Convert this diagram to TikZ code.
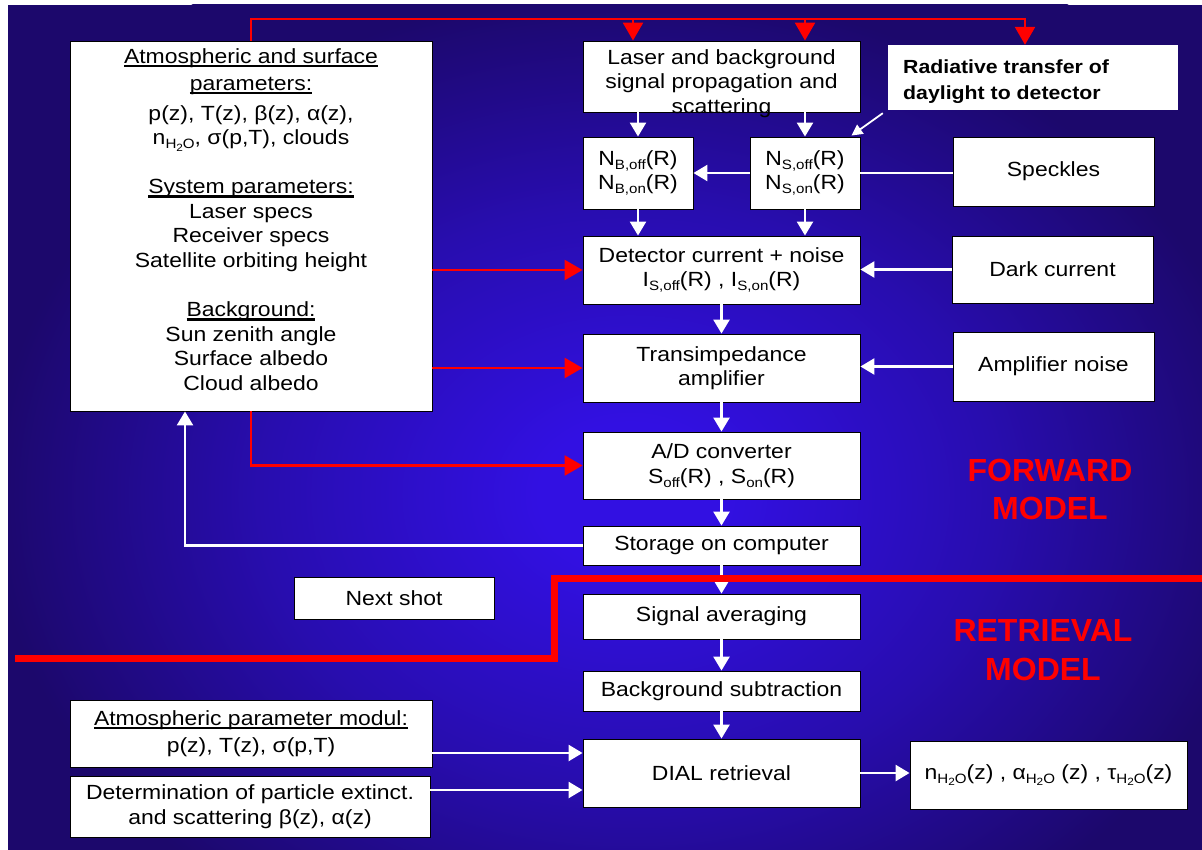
\documentclass[tikz,border=0pt]{standalone}
\usepackage{fontspec}
\setmainfont{Liberation Sans}[FakeStretch=1.12]
\newfontfamily\plainsans{Liberation Sans}
\usetikzlibrary{arrows.meta}
\definecolor{bgdark}{RGB}{28,8,108}
\definecolor{bgmid}{RGB}{40,13,175}
\definecolor{bgbright}{RGB}{50,16,226}
\definecolor{lred}{RGB}{255,0,0}
\pgfdeclareradialshading{bgshade}{\pgfpoint{0bp}{0bp}}{color(0bp)=(bgbright); color(3bp)=(bgbright); color(12bp)=(bgmid); color(21bp)=(bgdark); color(25bp)=(bgdark); color(50bp)=(bgdark)}
\newcommand\lsub[1]{\raisebox{-4pt}{\fontsize{13.5}{13.5}\selectfont #1}}
\newcommand\htwoo{\lsub{H\raisebox{-2.5pt}{\fontsize{10.5}{10.5}\selectfont 2}O}}
\newcommand\ulh[1]{\begingroup\setbox0=\hbox{#1}\rlap{\rule[-4pt]{\wd0}{2.2pt}}\box0\endgroup}
\begin{document}
\begin{tikzpicture}[x=1pt, y=-1pt,
  box/.style={draw=black, line width=0.9pt, fill=white, inner sep=0pt, align=center, font=\fontsize{20.5}{24.5}\selectfont},
  txt/.style={inner sep=0pt, align=center, font=\fontsize{20.5}{24.5}\selectfont},
  radbox/.style={fill=white, inner sep=0pt},
  radtxt/.style={inner sep=0pt, align=left, font=\bfseries\fontsize{19}{26}\selectfont},
  redtxt/.style={inner sep=0pt, align=center, text=lred, font=\plainsans\bfseries\fontsize{32}{38.5}\selectfont},
  wline/.style={draw=white, line width=2.6pt},
  warr/.style={wline, -{Triangle[width=16pt,length=14pt]}},
  wthin/.style={draw=white, line width=1.8pt, -{Triangle[width=11pt,length=11pt]}},
  rline/.style={draw=lred, line width=2.6pt},
  rarr/.style={rline, -{Triangle[width=20pt,length=18pt]}},
  sep/.style={draw=lred, line width=7pt}
]
\useasboundingbox (0,0) rectangle (1202,850);
\fill[white] (0,0) rectangle (1202,850);
\begin{scope}
  \clip (8,5) rectangle (1202,850);
  \fill[bgdark] (8,5) rectangle (1202,850);
  \shade[shading=bgshade] (630,495) ellipse [x radius=760pt, y radius=600pt];
\end{scope}

% ---------- left parameter box ----------
\node[box, minimum width=362pt, minimum height=370pt] (lbox) at (251,226) {};
\node[txt, anchor=north] (lboxtext) at (251,48) {%
  \ulh{Atmospheric and surface}\\[2.5pt]
  \ulh{parameters:}\\[5.5pt]
  p(z), T(z), β(z), α(z),\\
  n\htwoo, σ(p,T), clouds\\[24.5pt]
  \ulh{System parameters:}\\
  Laser specs\\
  Receiver specs\\
  Satellite orbiting height\\[25pt]
  \ulh{Background:}\\
  Sun zenith angle\\
  Surface albedo\\
  Cloud albedo};

% ---------- forward chain ----------
\node[box, minimum width=277pt, minimum height=71pt] (laser) at (721.5,76.5) {};
\node[txt, anchor=north] (lasertext) at (721.5,49) {Laser and background\\signal propagation and\\scattering};
\node[box, minimum width=110pt, minimum height=72pt] (nb) at (638,173) {N\lsub{B,off}(R)\\N\lsub{B,on}(R)};
\node[box, minimum width=110pt, minimum height=72pt] (ns) at (805,173) {N\lsub{S,off}(R)\\N\lsub{S,on}(R)};
\node[radbox, minimum width=290pt, minimum height=65pt] (rad) at (1033,77.5) {};
\node[radtxt, anchor=north west] (radtext) at (903,60) {Radiative transfer of\\daylight to detector};
\node[box, minimum width=201pt, minimum height=69pt] (speck) at (1053.5,171.5) {Speckles};
\node[box, minimum width=201pt, minimum height=67pt] (dark) at (1052.5,269.5) {Dark current};
\node[box, minimum width=201pt, minimum height=69pt] (amp) at (1053.5,366.5) {Amplifier noise};
\node[box, minimum width=277pt, minimum height=68pt] (det) at (721.5,270) {Detector current + noise\\I\lsub{S,off}(R) , I\lsub{S,on}(R)};
\node[box, minimum width=277pt, minimum height=68pt] (trans) at (721.5,368) {Transimpedance\\amplifier};
\node[box, minimum width=277pt, minimum height=67pt] (ad) at (721.5,465.5) {A/D converter\\S\lsub{off}(R) , S\lsub{on}(R)};
\node[box, minimum width=277pt, minimum height=39pt] (store) at (721.5,545.5) {Storage on computer};
\node[box, minimum width=200pt, minimum height=42pt] (next) at (394,598) {Next shot};

% ---------- retrieval chain ----------
\node[box, minimum width=277pt, minimum height=45pt] (sig) at (721.5,616.5) {Signal averaging};
\node[box, minimum width=277pt, minimum height=40pt] (bgs) at (721.5,691) {Background subtraction};
\node[box, minimum width=277pt, minimum height=68pt] (dial) at (721.5,773) {DIAL retrieval};
\node[box, minimum width=277pt, minimum height=68pt] (out) at (1048.5,775) {n\htwoo(z) , α\htwoo\ (z) , τ\htwoo(z)};
\node[box, minimum width=362pt, minimum height=67pt] (atm) at (251,733.5) {\ulh{Atmospheric parameter modul:}\\[3pt]p(z), T(z), σ(p,T)};
\node[box, minimum width=360pt, minimum height=61pt] (part) at (250,806.5) {Determination of particle extinct.\\and scattering β(z), α(z)};

% ---------- labels ----------
\node[redtxt] (fwd) at (1050,489.5) {FORWARD\\MODEL};
\node[redtxt] (ret) at (1043,650) {RETRIEVAL\\MODEL};

% ---------- red connectors ----------
\coordinate (rtop) at (251,19);
\coordinate (r1) at (633,19);
\coordinate (r2) at (805,19);
\coordinate (r3) at (1025,19);
\draw[rarr] (lbox.north) -- (rtop) -- (r3) -- (r3 |- rad.north);
\draw[rarr] (r1) -- (r1 |- laser.north);
\draw[rarr] (r2) -- (r2 |- laser.north);
\draw[rarr] (lbox.east |- det.west) -- (det.west);
\draw[rarr] (lbox.east |- trans.west) -- (trans.west);
\draw[rarr] (lbox.south) |- (ad.west);

% ---------- white connectors ----------
\draw[warr] (laser.south -| nb.north) -- (nb.north);
\draw[warr] (laser.south -| ns.north) -- (ns.north);
\draw[warr] (ns.west) -- (nb.east);
\draw[wline] (ns.east) -- (ns.east -| speck.west);
\draw[wthin] ([shift={(-5,3)}]rad.south west) -- ([shift={(-9,-1)}]ns.north east);
\draw[warr] (nb.south) -- (nb.south |- det.north);
\draw[warr] (ns.south) -- (ns.south |- det.north);
\draw[warr] (dark.west) -- (dark.west -| det.east);
\draw[warr] (amp.west) -- (amp.west -| trans.east);
\draw[warr] (det.south) -- (trans.north);
\draw[warr] (trans.south) -- (ad.north);
\draw[warr] (ad.south) -- (store.north);
\coordinate (retx) at (185,545.5);
\draw[warr] (store.west) -- (retx) -- (retx |- lbox.south);
\draw[warr] (store.south) -- (sig.north);
\draw[warr] (sig.south) -- (bgs.north);
\draw[warr] (bgs.south) -- (dial.north);
\coordinate (a1) at (432,753);
\coordinate (a2) at (430,790);
\draw[warr] (a1) -- (a1 -| dial.west);
\draw[warr] (a2) -- (a2 -| dial.west);
\draw[warr] (dial.east) -- (dial.east -| out.west);

% ---------- model separator ----------
\draw[sep] (15,658) -- (554,658) -- (554,578) -- (1210,578);
\end{tikzpicture}
\end{document}
